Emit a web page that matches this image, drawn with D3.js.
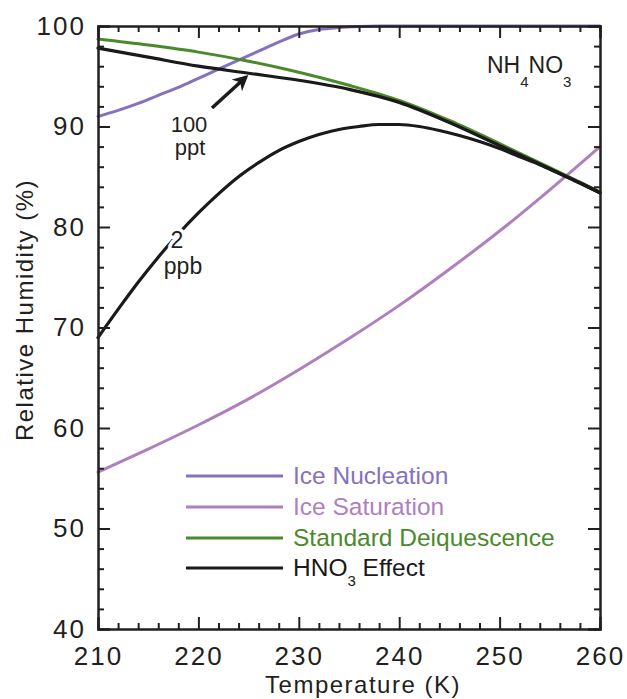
<html>

<head>
<meta charset="utf-8"/>
<title>NH4NO3 deliquescence vs ice nucleation</title>
<style>
body {margin: 0; background: #fff}
text {font-family: "Liberation Sans", Arial, Helvetica, sans-serif; fill: #231f20}
</style>
</head>

<body>
<div id="my_dataviz"></div>

<script src="https://d3js.org/d3.v7.min.js"></script>
<script>

// ---- data ----
var iceNucT  = [210, 212, 214, 216, 218, 220, 222, 224, 226, 228, 230, 232, 234, 236, 238, 240, 250, 260]
var iceNucRH = [91.0, 91.6, 92.3, 93.1, 93.9, 94.8, 95.7, 96.6, 97.5, 98.4, 99.2, 99.65, 99.85, 99.95, 100, 100, 100, 100]

var iceSatT  = [210, 215, 220, 225, 230, 235, 240, 245, 250, 255, 260]
var iceSatRH = [55.6, 57.9, 60.3, 62.9, 65.8, 68.9, 72.2, 75.8, 79.6, 83.7, 88.0]

var stdDelT  = [210, 215, 220, 225, 230, 235, 240, 245, 250, 255, 260]
var stdDelRH = [98.7, 98.1, 97.4, 96.5, 95.4, 94.1, 92.6, 90.6, 88.3, 85.9, 83.5]

var hno3LowT  = [210, 215, 220, 225, 230, 235, 240, 245, 250, 255, 260]
var hno3LowRH = [97.8, 96.9, 96.0, 95.3, 94.6, 93.7, 92.4, 90.4, 88.1, 85.8, 83.4]

var hno3HighT  = [210, 212, 214, 216, 218, 220, 222, 224, 226, 228, 230, 232, 234, 236, 238, 240, 242, 244, 246, 248, 250, 252, 254, 256, 258, 260]
var hno3HighRH = [69.0, 71.8, 74.5, 77.0, 79.3, 81.4, 83.3, 85.0, 86.4, 87.6, 88.5, 89.2, 89.7, 90.0, 90.2, 90.2, 90.0, 89.6, 89.1, 88.5, 87.8, 87.0, 86.2, 85.3, 84.4, 83.4]

var xTicks = [210, 220, 230, 240, 250, 260]
var yTicks = [40, 50, 60, 70, 80, 90, 100]

var legendNames  = ["Ice Nucleation", "Ice Saturation", "Standard Deiquescence", "HNO3 Effect"]
var legendColors = ["#8671bd", "#b07fc0", "#4b8a2b", "#1a1a1a"]

// ---- layout ----
var width = 627
    height = 699
// (don't call these top/left: window.top is read-only)
var plotL = 98, plotR = 600, plotT = 26, plotB = 629

var svg = d3.select("#my_dataviz")
  .append("svg")
    .attr("width", width)
    .attr("height", height)

var x = d3.scaleLinear().domain([210, 260]).range([plotL, plotR])
var y = d3.scaleLinear().domain([40, 100]).range([plotB, plotT])

var line = d3.line()
  .x(function(d){ return x(d[0]) })
  .y(function(d){ return y(d[1]) })
  .curve(d3.curveMonotoneX)

function pairs(t, v) { return t.map(function(d, i){ return [d, v[i]] }) }

// curves (drawn in the figure's stacking order)
var series = [
  {pts: pairs(iceSatT, iceSatRH),     color: legendColors[1], w: 3},
  {pts: pairs(iceNucT, iceNucRH),     color: legendColors[0], w: 3},
  {pts: pairs(stdDelT, stdDelRH),     color: legendColors[2], w: 3},
  {pts: pairs(hno3LowT, hno3LowRH),   color: legendColors[3], w: 3.2},
  {pts: pairs(hno3HighT, hno3HighRH), color: legendColors[3], w: 3.2}
]

svg.append("g").selectAll("path")
  .data(series)
  .enter()
  .append("path")
    .attr("d", function(d){ return line(d.pts) })
    .attr("fill", "none")
    .attr("stroke", function(d){ return d.color })
    .attr("stroke-width", function(d){ return d.w })
    .attr("stroke-linecap", "round")

// ---- axes with inward ticks on all four sides ----
var minorX = d3.range(210, 260.1, 2).filter(function(d){ return d % 10 != 0 })
var minorY = d3.range(40, 100.1, 2).filter(function(d){ return d % 10 != 0 })

function styleAxis(g) {
  g.select(".domain").attr("stroke", "#231f20").attr("stroke-width", 2)
  g.selectAll(".tick line").attr("stroke", "#231f20").attr("stroke-width", 2)
}

// bottom
svg.append("g")
  .attr("transform", "translate(0," + plotB + ")")
  .call(d3.axisBottom(x).tickValues(xTicks).tickSize(-12).tickPadding(18).tickFormat(d3.format("d")))
  .call(styleAxis)
  .call(function(g){ g.selectAll("text").attr("font-size", 26).attr("letter-spacing", 2).attr("fill", "#231f20") })
svg.append("g")
  .attr("transform", "translate(0," + plotB + ")")
  .call(d3.axisBottom(x).tickValues(minorX).tickSize(-6).tickFormat(""))
  .call(styleAxis)

// top
svg.append("g")
  .attr("transform", "translate(0," + plotT + ")")
  .call(d3.axisTop(x).tickValues(xTicks).tickSize(-12).tickFormat(""))
  .call(styleAxis)
svg.append("g")
  .attr("transform", "translate(0," + plotT + ")")
  .call(d3.axisTop(x).tickValues(minorX).tickSize(-6).tickFormat(""))
  .call(styleAxis)

// left
svg.append("g")
  .attr("transform", "translate(" + plotL + ",0)")
  .call(d3.axisLeft(y).tickValues(yTicks).tickSize(-12).tickPadding(12).tickFormat(d3.format("d")))
  .call(styleAxis)
  .call(function(g){ g.selectAll("text").attr("font-size", 26).attr("letter-spacing", 2).attr("fill", "#231f20") })
svg.append("g")
  .attr("transform", "translate(" + plotL + ",0)")
  .call(d3.axisLeft(y).tickValues(minorY).tickSize(-6).tickFormat(""))
  .call(styleAxis)

// right
svg.append("g")
  .attr("transform", "translate(" + plotR + ",0)")
  .call(d3.axisRight(y).tickValues(yTicks).tickSize(-12).tickFormat(""))
  .call(styleAxis)
svg.append("g")
  .attr("transform", "translate(" + plotR + ",0)")
  .call(d3.axisRight(y).tickValues(minorY).tickSize(-6).tickFormat(""))
  .call(styleAxis)

svg.selectAll(".tick text").attr("font-family", null)

// axis titles
svg.append("text")
  .attr("x", 363)
  .attr("y", 693)
  .attr("text-anchor", "middle")
  .attr("font-size", 24)
  .attr("letter-spacing", 1.5)
  .text("Temperature (K)")

svg.append("text")
  .attr("transform", "translate(33,310) rotate(-90)")
  .attr("text-anchor", "middle")
  .attr("font-size", 24)
  .attr("letter-spacing", 1.5)
  .text("Relative Humidity (%)")

// ---- annotations ----
var defs = svg.append("defs")
defs.append("marker")
    .attr("id", "arrow")
    .attr("viewBox", "0 0 10 10")
    .attr("refX", 8)
    .attr("refY", 5)
    .attr("markerWidth", 4.5)
    .attr("markerHeight", 4.5)
    .attr("orient", "auto")
  .append("path")
    .attr("d", "M0,0 L10,5 L0,10 L3,5 Z")
    .attr("fill", "#1a1a1a")

svg.append("line")
  .attr("x1", 212).attr("y1", 108)
  .attr("x2", 246).attr("y2", 77)
  .attr("stroke", "#1a1a1a")
  .attr("stroke-width", 3.5)
  .attr("marker-end", "url(#arrow)")

svg.append("text").attr("x", 189).attr("y", 132).attr("text-anchor", "middle").attr("font-size", 22).text("100")
svg.append("text").attr("x", 190).attr("y", 155).attr("text-anchor", "middle").attr("font-size", 22).text("ppt")

svg.append("text").attr("x", 177).attr("y", 248).attr("text-anchor", "middle").attr("font-size", 23)
  .attr("stroke", "#fff").attr("stroke-width", 7).attr("paint-order", "stroke").text("2")
svg.append("text").attr("x", 183).attr("y", 274).attr("text-anchor", "middle").attr("font-size", 23).text("ppb")

// NH4NO3 label
var chem = svg.append("text").attr("x", 487).attr("y", 73).attr("font-size", 23)
chem.append("tspan").text("NH")
chem.append("tspan").attr("font-size", 15).attr("dy", 14).text("4")
chem.append("tspan").attr("dy", -14).text("NO")
chem.append("tspan").attr("font-size", 15).attr("dy", 14).text("3")

// ---- legend ----
var legendY = [476, 507, 538, 568]
var legend = svg.append("g")
legend.selectAll("line")
  .data(legendNames)
  .enter()
  .append("line")
    .attr("x1", 186).attr("x2", 283)
    .attr("y1", function(d, i){ return legendY[i] })
    .attr("y2", function(d, i){ return legendY[i] })
    .attr("stroke", function(d, i){ return legendColors[i] })
    .attr("stroke-width", 3)

legend.selectAll("text")
  .data(legendNames)
  .enter()
  .append("text")
    .attr("x", 293)
    .attr("y", function(d, i){ return legendY[i] + 8 })
    .attr("font-size", 24.5)
    .style("fill", function(d, i){ return legendColors[i] })
    .each(function(d){
      var t = d3.select(this)
      if (d.indexOf("HNO3") == 0) {
        t.append("tspan").text("HNO")
        t.append("tspan").attr("font-size", 15).attr("dy", 10).text("3")
        t.append("tspan").attr("dy", -10).text(" Effect")
      } else {
        t.text(d)
      }
    })

</script>

</body>

</html>
